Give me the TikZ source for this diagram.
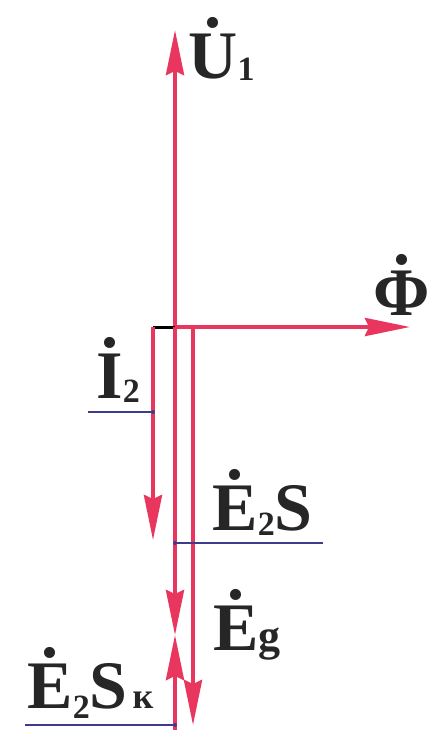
\documentclass[tikz,border=0pt]{standalone}
\usepackage{fontspec}
\setmainfont{Liberation Serif}
\usetikzlibrary{arrows.meta}
\definecolor{vred}{RGB}{233,54,94}
\definecolor{lead}{RGB}{62,58,140}
\newcommand\subtxt[2][-2pt]{\raisebox{#1}{\fontsize{17}{18}\selectfont #2}}
\newcommand\dotacc[1]{\ooalign{#1\cr\hidewidth\raisebox{0.74em}{.}\hidewidth\cr}}
\begin{document}
\begin{tikzpicture}[x=0.5pt,y=-0.5pt,
  vec/.style={draw=vred,line width=2pt,-{Stealth[length=22.5pt,width=9pt,inset=2pt]}},
  leadline/.style={draw=lead,line width=0.8pt},
  enddot/.style={circle,fill=lead,inner sep=0pt,minimum size=2pt},
  lbl/.style={anchor=base west,inner sep=0pt,font=\fontsize{34}{36}\selectfont\bfseries,text=black!85}]
\useasboundingbox (0,0) rectangle (440,730);
% origin and endpoints
\coordinate (O) at (175,327);
\coordinate (L) at (153,327);
\coordinate (R) at (193,327);
\coordinate (Utip) at (175,30);
\coordinate (Ftip) at (410,327);
\coordinate (Itip) at (153,540);
\coordinate (Mid) at (175,635);
\coordinate (Bot) at (175,730);
\coordinate (Gtip) at (193,725);
% vectors
\draw[vec] (O) -- (Utip);
\draw[vec] (O) -- (Ftip);
\draw[black,line width=1.5pt] (L) -- (O);
\draw[vec] (L) -- (Itip);
\draw[vec] (O) -- (Mid);
\draw[vec] (Bot) -- (Mid);
\draw[vec] (R) -- (Gtip);
% leader lines
\node[enddot] (dI) at (153,412) {};
\coordinate (lI) at (88,412);
\draw[leadline] (lI) -- (dI);
\node[enddot] (dS) at (175,543) {};
\coordinate (rS) at (323,543);
\draw[leadline] (dS) -- (rS);
\node[enddot] (dK) at (175,725) {};
\coordinate (lK) at (25,725);
\draw[leadline] (lK) -- (dK);
% labels
\node[lbl] (tU) at (188,78) {\dotacc{U}\subtxt[-1pt]{1}};
\node[lbl] (tF) at (373,315) {\dotacc{Φ}};
\node[lbl] (tI) at (96,398) {\dotacc{I}\subtxt[-2pt]{2}};
\node[lbl] (tS) at (212,530) {\dotacc{E}\subtxt[-2.5pt]{2}S};
\node[lbl] (tG) at (213,650) {\dotacc{E}{\fontsize{22}{24}\selectfont g}};
\node[lbl] (tK) at (27,708) {\dotacc{E}\subtxt[-5pt]{2}S\kern2.5pt{\fontsize{18}{20}\selectfont к}};
\end{tikzpicture}
\end{document}
